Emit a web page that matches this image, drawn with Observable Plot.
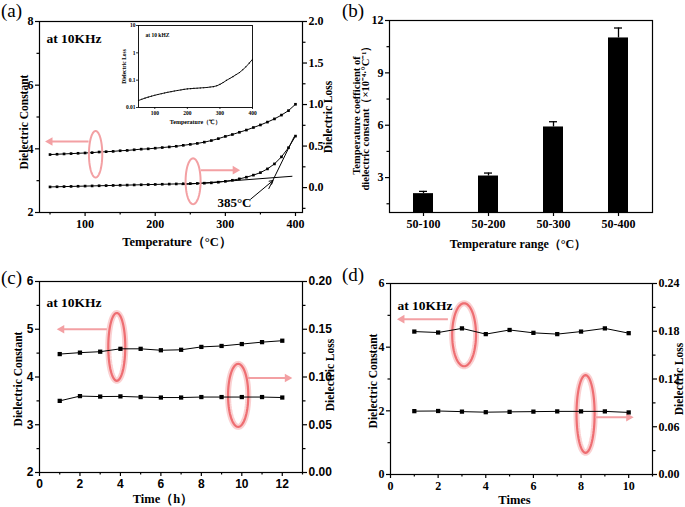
<!DOCTYPE html>
<html><head><meta charset="utf-8">
<script src="https://cdn.jsdelivr.net/npm/d3@7"></script>
<script src="https://cdn.jsdelivr.net/npm/@observablehq/plot@0.6"></script>
<style>
body{margin:0;background:#fff;}
#fig{position:relative;width:685px;height:507px;overflow:hidden;background:#fff;}
.pl{position:absolute;font-family:"Liberation Serif","Times New Roman",serif;font-size:19px;line-height:19px;color:#000;}
.sansTicks g[aria-label="y-axis tick label"] text, .sansTicks g[aria-label="x-axis tick label"] text {font-family:"Liberation Sans",Arial,sans-serif;}
</style></head><body><div id="fig"></div>
<script>
// ---------------- data ----------------
// (a) temperature dependence at 10 kHz
const tempA = [50,60,70,80,90,100,110,120,130,140,150,160,170,180,190,200,210,220,230,240,250,260,270,280,290,300,310,320,330,340,350,360,370,380,390,400];
const constA = [3.82,3.83,3.84,3.85,3.86,3.87,3.88,3.90,3.91,3.92,3.94,3.95,3.97,3.99,4.00,4.02,4.04,4.06,4.08,4.11,4.14,4.17,4.21,4.26,4.32,4.39,4.45,4.52,4.59,4.67,4.75,4.84,4.94,5.06,5.20,5.40];
const lossA = [0.008,0.010,0.012,0.014,0.016,0.018,0.020,0.022,0.024,0.026,0.028,0.030,0.032,0.034,0.036,0.038,0.040,0.042,0.044,0.046,0.048,0.050,0.053,0.057,0.065,0.075,0.088,0.105,0.125,0.150,0.180,0.225,0.285,0.370,0.480,0.620];
const insetLoss = [0.018,0.020,0.022,0.024,0.026,0.028,0.030,0.032,0.034,0.036,0.038,0.040,0.042,0.044,0.046,0.048,0.049,0.050,0.051,0.052,0.053,0.054,0.056,0.058,0.062,0.070,0.082,0.098,0.115,0.135,0.160,0.190,0.240,0.310,0.420,0.580];
const tangentFlat = [[238,0.036],[395,0.136]];
const tangentSteep = [[362,-0.012],[398,0.61]];
// (b) temperature coefficient
const rangeB = ["50-100","50-200","50-300","50-400"];
const coefB = [2.08,3.09,5.90,11.0];
const errB = [0.13,0.17,0.30,0.57];
// (c) time stability
const timeC = [1,2,3,4,5,6,7,8,9,10,11,12];
const constC = [4.48,4.51,4.53,4.59,4.59,4.56,4.57,4.63,4.65,4.69,4.73,4.76];
const lossC = [0.075,0.080,0.0795,0.0797,0.079,0.0785,0.0785,0.079,0.079,0.079,0.079,0.0785];
// (d) repeated measurements
const timesD = [1,2,3,4,5,6,7,8,9,10];
const constD = [4.49,4.46,4.59,4.41,4.54,4.45,4.41,4.49,4.59,4.44];
const lossD = [0.0796,0.0798,0.0790,0.0783,0.0787,0.0790,0.0793,0.0793,0.0793,0.0780];

// ---------------- helpers ----------------
const SERIF = '"Liberation Serif","Times New Roman",serif';
const baseStyle = {fontFamily: SERIF, fontSize: "12px", fontWeight: "bold", color: "#000", background: "transparent", overflow: "visible"};
const PINK = "#f3a0a3", RED = "#ee6e72", GLOW = "#f9c4c6";
const fig = document.getElementById("fig");
const fmt = d => String(d);
function place(el, left, top, cls) {
  const d = document.createElement("div");
  d.style.cssText = `position:absolute;left:${left}px;top:${top}px;`;
  if (cls) d.className = cls;
  d.append(el); fig.append(d);
}
function ellipsePts(cx, cy, rx, ry) {
  return d3.range(0, 73).map(k => { const a = k / 72 * 2 * Math.PI; return {x: cx + rx * Math.cos(a), y: cy + ry * Math.sin(a)}; });
}
function ellipseMarks(e, glow) {
  const pts = ellipsePts(e[0], e[1], e[2], e[3]);
  const m = [];
  if (glow) m.push(Plot.line(pts, {x: "x", y: "y", stroke: GLOW, strokeWidth: 6, strokeOpacity: 0.8}));
  m.push(Plot.line(pts, {x: "x", y: "y", stroke: glow ? RED : PINK, strokeWidth: glow ? 2.2 : 2}));
  return m;
}
function arrowMarks(a) { // [x1, x2, y]
  const d = [{x1: a[0], x2: a[1], y: a[2]}];
  return [
    Plot.link(d, {x1: "x1", x2: "x2", y1: "y", y2: "y", stroke: PINK, strokeWidth: 2}),
    Plot.dot(d, {x: "x2", y: "y", symbol: "triangle", rotate: a[1] > a[0] ? 90 : -90, r: 3.2, fill: PINK, stroke: "none"})
  ];
}
function tickAxes(o) {
  const sw = 1.2;
  const m = [
    Plot.axisX({ticks: o.xTicks, tickSize: 4, tickPadding: 3, label: null, strokeWidth: sw, tickFormat: fmt}),
    Plot.axisY({anchor: "left", ticks: o.yTicks, tickSize: 4, tickPadding: 2, label: null, strokeWidth: sw, tickFormat: fmt})
  ];
  if (o.xMinor) m.push(Plot.axisX({ticks: o.xMinor, tickSize: 2.5, label: null, strokeWidth: sw, tickFormat: () => ""}));
  if (o.yMinor) m.push(Plot.axisY({anchor: "left", ticks: o.yMinor, tickSize: 2.5, label: null, strokeWidth: sw, tickFormat: () => ""}));
  if (o.rTicks) {
    const mp = new Map(o.rTicks.map(v => [o.toL(v), v.toFixed(o.rDigits)]));
    m.push(Plot.axisY({anchor: "right", ticks: o.rTicks.map(o.toL), tickSize: 4, tickPadding: 2, label: null, strokeWidth: sw, tickFormat: v => mp.get(v)}));
    if (o.rMinor) m.push(Plot.axisY({anchor: "right", ticks: o.rMinor.map(o.toL), tickSize: 2.5, label: null, strokeWidth: sw, tickFormat: () => ""}));
  }
  return m;
}
function titleMarks(t) {
  const m = [];
  const fs = t.fs || 11.5;
  if (t.left) m.push(Plot.text([t.left], {text: d => d, frameAnchor: "left", dx: t.ldx, dy: t.ldy || 0, rotate: -90, textAnchor: "middle", lineAnchor: "middle", fontSize: fs, fontWeight: "bold", fontFamily: SERIF}));
  if (t.left2) m.push(Plot.text([t.left2], {text: d => d, frameAnchor: "left", dx: t.ldx2, dy: t.ldy || 0, rotate: -90, textAnchor: "middle", lineAnchor: "middle", fontSize: fs, fontWeight: "bold", fontFamily: SERIF}));
  if (t.right) m.push(Plot.text([t.right], {text: d => d, frameAnchor: "right", dx: t.rdx, dy: t.rdy || 0, rotate: -90, textAnchor: "middle", lineAnchor: "middle", fontSize: fs, fontWeight: "bold", fontFamily: SERIF}));
  if (t.bottom) m.push(Plot.text([t.bottom], {text: d => d, frameAnchor: "bottom", dx: t.bdx || 0, dy: t.bdy, textAnchor: "middle", lineAnchor: "middle", fontSize: t.bfs || 12.5, fontWeight: "bold", fontFamily: SERIF}));
  if (t.note) m.push(Plot.text([t.note], {text: d => d, frameAnchor: "top-left", dx: t.ndx, dy: t.ndy, textAnchor: "start", lineAnchor: "middle", fontSize: 13.5, fontWeight: "bold", fontFamily: SERIF}));
  return m;
}

// ---------------- (a) ----------------
const toA = L => 2 + (L + 0.3) * 6 / 2.3;
const ptsA = tempA.map((t, i) => ({t, c: constA[i], l: lossA[i]}));
const plotA = Plot.plot({
  width: 340, height: 255, marginLeft: 39, marginRight: 38, marginTop: 21, marginBottom: 43,
  x: {domain: [35, 410]}, y: {domain: [2, 8]}, style: baseStyle,
  marks: [
    ...tickAxes({xTicks: [100, 200, 300, 400], xMinor: [50, 150, 250, 350], yTicks: [2, 4, 6, 8], yMinor: [3, 5, 7],
      rTicks: [0, 0.5, 1, 1.5, 2], rMinor: [-0.25, 0.25, 0.75, 1.25, 1.75], toL: toA, rDigits: 1}),
    Plot.frame({strokeWidth: 1.2}),
    Plot.line(tangentFlat, {x: d => d[0], y: d => toA(d[1]), stroke: "black", strokeWidth: 1}),
    Plot.line(tangentSteep, {x: d => d[0], y: d => toA(d[1]), stroke: "black", strokeWidth: 1}),
    Plot.line(ptsA, {x: "t", y: "c", stroke: "black", strokeWidth: 1}),
    Plot.dot(ptsA, {x: "t", y: "c", symbol: "square", r: 1.5, fill: "black", stroke: "none"}),
    Plot.line(ptsA, {x: "t", y: d => toA(d.l), stroke: "black", strokeWidth: 1}),
    Plot.dot(ptsA, {x: "t", y: d => toA(d.l), symbol: "square", r: 1.5, fill: "black", stroke: "none"}),
    Plot.arrow([{x1: 336, y1: -0.14, x2: 368, y2: 0.085}], {x1: "x1", x2: "x2", y1: d => toA(d.y1), y2: d => toA(d.y2), stroke: "black", strokeWidth: 1, headLength: 6}),
    Plot.text(["385°C"], {text: d => d, x: () => 313, y: () => toA(-0.18), fontSize: 13, fontWeight: "bold", fontFamily: SERIF}),
    ...ellipseMarks([115, 3.83, 9.5, 0.73], false),
    ...arrowMarks([105, 50, 4.23]),
    ...ellipseMarks([254, toA(0.076), 10.7, 0.72], false),
    ...arrowMarks([265, 314, toA(0.21)]),
    ...titleMarks({left: "Dielectric Constant", ldx: -15, ldy: 5, right: "Dielectric Loss", rdx: 26,
      bottom: "Temperature（°C）", bdx: 6, bdy: 29, note: "at 10KHz", ndx: 7, ndy: 17})
  ]
});
place(plotA, 0, 0);

// inset of (a)
const ptsIn = tempA.map((t, i) => ({t, l: insetLoss[i]}));
const plotIn = Plot.plot({
  width: 145, height: 110, marginLeft: 20, marginRight: 11, marginTop: 5, marginBottom: 23,
  x: {domain: [50, 400]}, y: {type: "log", domain: [0.01, 10]},
  style: {...baseStyle, fontSize: "5.5px"},
  marks: [
    Plot.frame({fill: "white", stroke: "none"}),
    Plot.axisX({ticks: [100, 200, 300, 400], tickSize: 2, tickPadding: 1.5, label: null, strokeWidth: 0.8, fontSize: 5.5, tickFormat: fmt}),
    Plot.axisY({ticks: [0.01, 0.1, 1, 10], tickSize: 2, tickPadding: 1, label: null, strokeWidth: 0.8, fontSize: 5.5, tickFormat: fmt}),
    Plot.frame({strokeWidth: 0.9}),
    Plot.line(ptsIn, {x: "t", y: "l", stroke: "black", strokeWidth: 0.9}),
    Plot.dot(ptsIn, {x: "t", y: "l", symbol: "square", r: 0.6, fill: "black", stroke: "none"}),
    Plot.text(["at 10 kHZ"], {text: d => d, frameAnchor: "top-left", dx: 7, dy: 10, textAnchor: "start", lineAnchor: "middle", fontSize: 5.5, fontWeight: "bold"}),
    Plot.text(["Dielectric Loss"], {text: d => d, frameAnchor: "left", dx: -14, rotate: -90, textAnchor: "middle", lineAnchor: "middle", fontSize: 5.5, fontWeight: "bold"}),
    Plot.text(["Temperature（℃）"], {text: d => d, frameAnchor: "bottom", dy: 15, textAnchor: "middle", lineAnchor: "middle", fontSize: 6, fontWeight: "bold"})
  ]
});
place(plotIn, 118, 20);

// ---------------- (b) ----------------
const ptsB = rangeB.map((r, i) => ({r, v: coefB[i], e: errB[i]}));
const plotB = Plot.plot({
  width: 345, height: 255, marginLeft: 49, marginRight: 33, marginTop: 20, marginBottom: 43,
  x: {type: "band", domain: rangeB, paddingInner: 0.7, paddingOuter: 0.35}, y: {domain: [1, 12]}, style: baseStyle,
  marks: [
    Plot.axisX({tickSize: 4, tickPadding: 3, label: null, strokeWidth: 1.2}),
    Plot.axisY({ticks: [3, 6, 9, 12], tickSize: 4, tickPadding: 2, label: null, strokeWidth: 1.2, tickFormat: fmt}),
    Plot.axisY({ticks: [1.5, 4.5, 7.5, 10.5], tickSize: 2.5, label: null, strokeWidth: 1.2, tickFormat: () => ""}),
    Plot.barY(ptsB, {x: "r", y: "v", fill: "black", clip: true}),
    Plot.ruleX(ptsB, {x: "r", y1: "v", y2: d => d.v + d.e, stroke: "black", strokeWidth: 1.3}),
    Plot.tickY(ptsB, {x: "r", y: d => d.v + d.e, stroke: "black", strokeWidth: 1.3, insetLeft: 6, insetRight: 6}),
    Plot.frame({strokeWidth: 1.2}),
    ...titleMarks({left: "Temperature coefficient of", ldx: -33, left2: "dielectric constant（×10⁻⁴·°C⁻¹）", ldx2: -23.5, ldy: -1, fs: 10.5,
      bottom: "Temperature range（°C）", bdx: -3, bdy: 32, bfs: 12})
  ]
});
place(plotB, 340, 0);

// ---------------- (c) ----------------
const toC = L => 2 + L * 20;
const ptsC = timeC.map((t, i) => ({t, c: constC[i], l: lossC[i]}));
const plotC = Plot.plot({
  width: 340, height: 252, marginLeft: 39, marginRight: 38, marginTop: 26, marginBottom: 35,
  x: {domain: [0, 13]}, y: {domain: [2, 6]}, style: baseStyle,
  marks: [
    ...tickAxes({xTicks: [0, 2, 4, 6, 8, 10, 12], xMinor: [1, 3, 5, 7, 9, 11, 13], yTicks: [2, 3, 4, 5, 6], yMinor: [2.5, 3.5, 4.5, 5.5],
      rTicks: [0, 0.05, 0.1, 0.15, 0.2], rMinor: [0.025, 0.075, 0.125, 0.175], toL: toC, rDigits: 2}),
    Plot.frame({strokeWidth: 1.2}),
    ...ellipseMarks([3.82, 4.63, 0.42, 0.71], true),
    ...arrowMarks([3.33, 1.1, 5.0]),
    ...ellipseMarks([9.82, 3.615, 0.5, 0.66], true),
    ...arrowMarks([10.31, 12.25, 3.98]),
    Plot.line(ptsC, {x: "t", y: "c", stroke: "black", strokeWidth: 1}),
    Plot.dot(ptsC, {x: "t", y: "c", symbol: "square", r: 2.4, fill: "black", stroke: "none"}),
    Plot.line(ptsC, {x: "t", y: d => toC(d.l), stroke: "black", strokeWidth: 1}),
    Plot.dot(ptsC, {x: "t", y: d => toC(d.l), symbol: "square", r: 2.4, fill: "black", stroke: "none"}),
    ...titleMarks({left: "Dielectric Constant", ldx: -21, ldy: 2, right: "Dielectric Loss", rdx: 28, rdy: -2,
      bottom: "Time（h）", bdx: -8, bdy: 26, note: "at 10KHz", ndx: 7, ndy: 21})
  ]
});
place(plotC, 0, 255, "sansTicks");

// ---------------- (d) ----------------
const toD = L => L * 25;
const ptsD = timesD.map((t, i) => ({t, c: constD[i], l: lossD[i]}));
const plotD = Plot.plot({
  width: 345, height: 252, marginLeft: 50, marginRight: 33, marginTop: 28, marginBottom: 33,
  x: {domain: [0, 11]}, y: {domain: [0, 6]}, style: baseStyle,
  marks: [
    ...tickAxes({xTicks: [0, 2, 4, 6, 8, 10], xMinor: [1, 3, 5, 7, 9, 11], yTicks: [0, 2, 4, 6], yMinor: [1, 3, 5],
      rTicks: [0, 0.06, 0.12, 0.18, 0.24], rMinor: [0.03, 0.09, 0.15, 0.21], toL: toD, rDigits: 2}),
    Plot.frame({strokeWidth: 1.2}),
    ...ellipseMarks([3.09, 4.39, 0.5, 0.99], true),
    ...arrowMarks([2.41, 0.48, 4.88]),
    ...ellipseMarks([8.19, 1.90, 0.38, 1.22], true),
    ...arrowMarks([8.6, 10.0, 1.80]),
    Plot.line(ptsD, {x: "t", y: "c", stroke: "black", strokeWidth: 1}),
    Plot.dot(ptsD, {x: "t", y: "c", symbol: "square", r: 2.4, fill: "black", stroke: "none"}),
    Plot.line(ptsD, {x: "t", y: d => toD(d.l), stroke: "black", strokeWidth: 1}),
    Plot.dot(ptsD, {x: "t", y: d => toD(d.l), symbol: "square", r: 2.4, fill: "black", stroke: "none"}),
    ...titleMarks({left: "Dielectric Constant", ldx: -17, ldy: 2, right: "Dielectric Loss", rdx: 27, rdy: 0,
      bottom: "Times", bdx: -7, bdy: 25, note: "at 10KHz", ndx: 7, ndy: 22})
  ]
});
place(plotD, 340, 255);

// panel letters
[["(a)", 1, 1], ["(b)", 342, 1], ["(c)", 1, 268], ["(d)", 342, 265]].forEach(([t, x, y]) => {
  const s = document.createElement("div"); s.className = "pl"; s.textContent = t;
  s.style.left = x + "px"; s.style.top = y + "px"; fig.append(s);
});
</script></body></html>
